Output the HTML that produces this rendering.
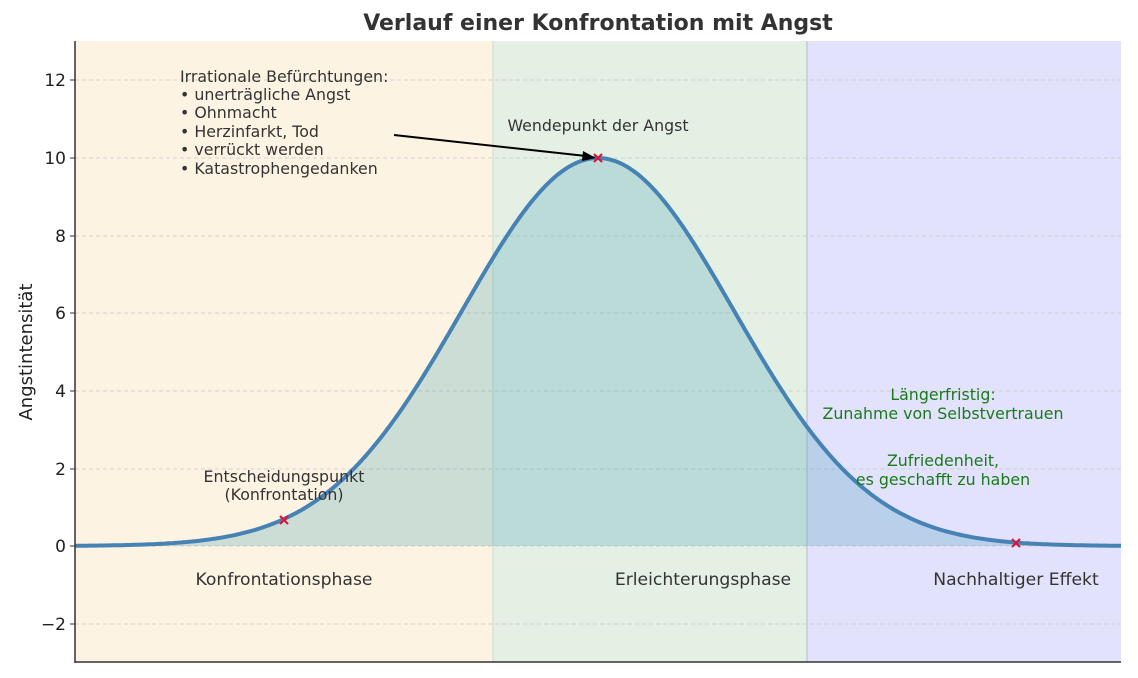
<!DOCTYPE html><html><head><meta charset="utf-8"><style>body{margin:0;background:#fff}svg{display:block;font-family:"DejaVu Sans","Liberation Sans",sans-serif}</style></head><body>
<svg id="s" width="1138" height="678" xmlns="http://www.w3.org/2000/svg">
<rect x="75" y="41" width="418" height="621" fill="#fdf3e3"/>
<rect x="493" y="41" width="314" height="621" fill="#e5f0e4"/>
<rect x="807" y="41" width="314" height="621" fill="#e2e2fd"/>
<line x1="493" y1="41" x2="493" y2="662" stroke="#c8dcc4" stroke-width="1"/>
<line x1="807" y1="41" x2="807" y2="662" stroke="#b8b8d8" stroke-width="1"/>
<g stroke="#c8c8c8" stroke-dasharray="4,3" stroke-width="0.7">
<line x1="75" x2="1121" y1="80" y2="80"/><line x1="75" x2="1121" y1="158" y2="158"/><line x1="75" x2="1121" y1="236" y2="236"/><line x1="75" x2="1121" y1="313" y2="313"/><line x1="75" x2="1121" y1="391" y2="391"/><line x1="75" x2="1121" y1="469" y2="469"/><line x1="75" x2="1121" y1="546" y2="546"/><line x1="75" x2="1121" y1="624" y2="624"/></g>
<path id="fill" fill="rgba(60,155,175,0.25)"/>
<path id="curve" fill="none" stroke="#4682b4" stroke-width="4"/>
<line x1="75" y1="41" x2="75" y2="663" stroke="#333" stroke-width="1.5"/>
<line x1="75" y1="662" x2="1121" y2="662" stroke="#333" stroke-width="1.5"/>
<g font-size="17" fill="#222" text-anchor="end">
<text x="66" y="86">12</text><text x="66" y="164">10</text><text x="66" y="242">8</text><text x="66" y="319">6</text><text x="66" y="397">4</text><text x="66" y="475">2</text><text x="66" y="552">0</text><text x="66" y="630">−2</text></g>
<g stroke="#333"><line x1="70" x2="75" y1="80" y2="80"/><line x1="70" x2="75" y1="158" y2="158"/><line x1="70" x2="75" y1="236" y2="236"/><line x1="70" x2="75" y1="313" y2="313"/><line x1="70" x2="75" y1="391" y2="391"/><line x1="70" x2="75" y1="469" y2="469"/><line x1="70" x2="75" y1="546" y2="546"/><line x1="70" x2="75" y1="624" y2="624"/></g>
<text x="32" y="352" font-size="18" fill="#222" text-anchor="middle" transform="rotate(-90 32 352)">Angstintensität</text>
<text x="598" y="30" font-size="22" font-weight="bold" fill="#333" text-anchor="middle">Verlauf einer Konfrontation mit Angst</text>
<g font-size="15.8" fill="#333">
<text x="180" y="82">Irrationale Befürchtungen:</text>
<text x="180" y="100">• unerträgliche Angst</text>
<text x="180" y="118">• Ohnmacht</text>
<text x="180" y="137">• Herzinfarkt, Tod</text>
<text x="180" y="155">• verrückt werden</text>
<text x="180" y="174">• Katastrophengedanken</text>
<text x="598" y="131" text-anchor="middle">Wendepunkt der Angst</text>
<text x="284" y="482" text-anchor="middle">Entscheidungspunkt</text>
<text x="284" y="500" text-anchor="middle">(Konfrontation)</text>
<text x="284" y="585" text-anchor="middle" font-size="17.2">Konfrontationsphase</text>
<text x="703" y="585" text-anchor="middle" font-size="17.2">Erleichterungsphase</text>
<text x="1016" y="585" text-anchor="middle" font-size="17.2">Nachhaltiger Effekt</text>
</g>
<g font-size="15.8" fill="#1a7a1a" text-anchor="middle">
<text x="943" y="400">Längerfristig:</text>
<text x="943" y="419">Zunahme von Selbstvertrauen</text>
<text x="943" y="466">Zufriedenheit,</text>
<text x="943" y="485">es geschafft zu haben</text></g>
<line x1="394" y1="135" x2="586" y2="156" stroke="#000" stroke-width="2"/>
<polygon points="596,158 583,151 582,161" fill="#000"/>
<g stroke="#dc143c" stroke-width="2.2">
<path d="M280 516l8 8M288 516l-8 8"/><path d="M594 154l8 8M602 154l-8 8"/><path d="M1012 539l8 8M1020 539l-8 8"/></g>
</svg>
<script>
var d="",f="M75 546";
for(var x=75;x<=1121;x+=2){var y=546-388*Math.exp(-Math.pow(x-598,2)/(2*136*136));d+=(x==75?"M":"L")+x+" "+y.toFixed(1);f+="L"+x+" "+y.toFixed(1);}
f+="L1121 546Z";
document.getElementById("curve").setAttribute("d",d);
document.getElementById("fill").setAttribute("d",f);
</script>
</body></html>
